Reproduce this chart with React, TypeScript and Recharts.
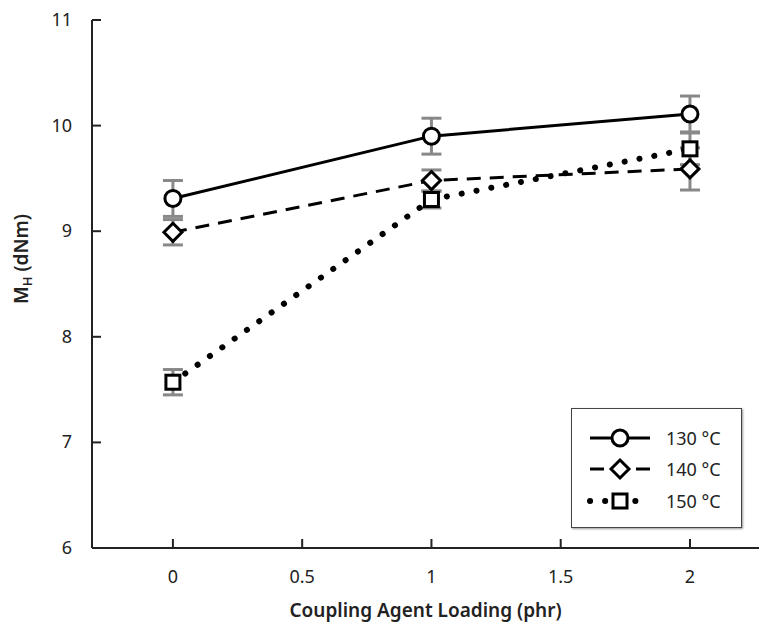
import React from 'react';
import { LineChart, Line, XAxis, YAxis, ErrorBar } from 'recharts';

const loading = [0, 1, 2];
const mh130 = [9.31, 9.9, 10.11];
const err130 = [0.17, 0.17, 0.17];
const mh140 = [8.99, 9.48, 9.59];
const err140 = [0.12, 0.1, 0.2];
const mh150 = [7.57, 9.3, 9.78];
const err150 = [0.12, 0.08, 0.15];
const xTicks = [0, 0.5, 1, 1.5, 2];
const yTicks = [6, 7, 8, 9, 10, 11];

const data = loading.map((x, i) => ({
  x,
  t130: mh130[i], e130: err130[i],
  t140: mh140[i], e140: err140[i],
  t150: mh150[i], e150: err150[i],
}));

const series = [
  { key: 't130', err: 'e130', name: '130 °C', dash: undefined as string | undefined, cap: 'butt', width: 3, shape: 'circle' },
  { key: 't140', err: 'e140', name: '140 °C', dash: '14 9', cap: 'butt', width: 3, shape: 'diamond' },
  { key: 't150', err: 'e150', name: '150 °C', dash: '0.1 15', cap: 'round', width: 6, shape: 'square' },
];

const FONT = '"Noto Sans", "Open Sans", sans-serif';

function Marker({ cx, cy, shape }: { cx: number; cy: number; shape: string }) {
  const st = { fill: '#fff', stroke: '#000', strokeWidth: 3 };
  if (shape === 'circle') return <circle cx={cx} cy={cy} r={8} {...st} />;
  if (shape === 'diamond')
    return <polygon points={`${cx},${cy - 9} ${cx + 9},${cy} ${cx},${cy + 9} ${cx - 9},${cy}`} {...st} />;
  return <rect x={cx - 7} y={cy - 7} width={14} height={14} {...st} />;
}

const XTick = (props: any) => {
  const { x, y, payload } = props;
  return (
    <g>
      <line x1={x} y1={y} x2={x} y2={y - 9} stroke="#222" strokeWidth={2} />
      <text x={x} y={y + 35} textAnchor="middle" fontSize={18} fill="#222" fontFamily={FONT}>
        {payload.value}
      </text>
    </g>
  );
};

const YTick = (props: any) => {
  const { x, y, payload } = props;
  return (
    <g>
      <line x1={x} y1={y} x2={x + 9} y2={y} stroke="#222" strokeWidth={2} />
      <text x={x - 20} y={y + 6} textAnchor="end" fontSize={18} fill="#222" fontFamily={FONT}>
        {payload.value}
      </text>
    </g>
  );
};

const LegendBox = () => (
  <div
    style={{
      position: 'absolute',
      left: 571,
      top: 408,
      width: 171,
      height: 120,
      border: '1.5px solid #444',
      boxShadow: '1px 1px 2px #999',
      background: '#fff',
      fontFamily: FONT,
      boxSizing: 'border-box',
      paddingTop: 13,
    }}
  >
    {series.map((s) => (
      <div key={s.key} style={{ display: 'flex', alignItems: 'center', height: 31.5 }}>
        <svg width={80} height={24} style={{ marginLeft: 14 }}>
          <line
            x1={4} y1={12} x2={64} y2={12} stroke="#000"
            strokeWidth={s.width} strokeDasharray={s.dash} strokeLinecap={s.cap as any}
          />
          <Marker cx={34} cy={12} shape={s.shape} />
        </svg>
        <span style={{ fontSize: 18, color: '#222' }}>{s.name}</span>
      </div>
    ))}
  </div>
);

export default function App() {
  return (
    <div style={{ position: 'absolute', left: 0, top: 0, width: 759, height: 629, background: '#fff' }}>
      <LineChart width={759} height={629} data={data} margin={{ top: 20, right: 0, bottom: 0, left: 0 }}>
        <XAxis
          dataKey="x" type="number" domain={[-0.313, 2.267]} ticks={xTicks} allowDataOverflow
          tickSize={0} tickMargin={0} tick={<XTick />} height={81}
          axisLine={{ stroke: '#222', strokeWidth: 2 }}
          label={{ value: 'Coupling Agent Loading (phr)', position: 'insideBottom', offset: 12, fontSize: 19, fontWeight: 600, fill: '#222', fontFamily: FONT }}
        />
        <YAxis
          type="number" domain={[6, 11]} ticks={yTicks} allowDataOverflow
          tickSize={0} tickMargin={0} tick={<YTick />} width={92}
          axisLine={{ stroke: '#222', strokeWidth: 2 }}
          label={(p: any) => {
            const vb = p.viewBox;
            const cx = 28;
            const cy = vb.y + vb.height / 2 - 25;
            return (
              <text transform={`translate(${cx},${cy}) rotate(-90)`} textAnchor="middle" fontSize={19} fontWeight={600} fill="#222" fontFamily={FONT}>
                M<tspan fontSize={13} dy={4}>H</tspan><tspan dy={-4}> (dNm)</tspan>
              </text>
            );
          }}
        />
        {series.map((s) => (
          <Line
            key={s.key}
            dataKey={s.key}
            name={s.name}
            stroke="#000"
            strokeWidth={s.width}
            strokeDasharray={s.dash}
            strokeLinecap={s.cap as any}
            isAnimationActive={false}
            dot={(p: any) => <Marker key={`${s.key}-${p.index}`} cx={p.cx} cy={p.cy} shape={s.shape} />}
            activeDot={false}
          >
            <ErrorBar dataKey={s.err} direction="y" width={10} stroke="#888" strokeWidth={3} />
          </Line>
        ))}
      </LineChart>
      <LegendBox />
    </div>
  );
}
